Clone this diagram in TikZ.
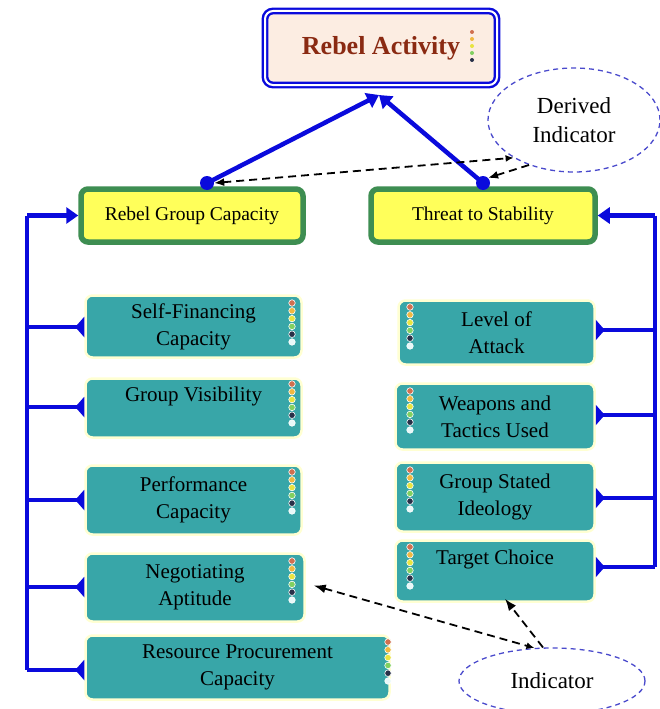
\documentclass[tikz,border=0pt]{standalone}
\usepackage{fontspec}
\setmainfont{Liberation Serif}
\usetikzlibrary{arrows.meta,shapes.geometric}
\definecolor{bl}{HTML}{0A0ADC}
\definecolor{tealfill}{HTML}{38A6A8}
\definecolor{glow}{HTML}{FFFFD2}
\definecolor{ylw}{HTML}{FFFF5A}
\definecolor{grn}{HTML}{3E8E52}
\definecolor{peach}{HTML}{FCEDE2}
\definecolor{brn}{HTML}{8A2A12}
\definecolor{ell}{HTML}{4A4ACC}
\definecolor{la}{HTML}{D07050}
\definecolor{lb}{HTML}{F0B840}
\definecolor{lc}{HTML}{E8E440}
\definecolor{ld}{HTML}{80D060}
\definecolor{le}{HTML}{283048}
\definecolor{lf}{HTML}{E8F8F8}
\tikzset{
  tealbox/.style={rectangle, rounded corners=7pt, fill=tealfill, draw=glow, line width=2.5pt,
    align=center, inner sep=0pt, font=\fontsize{21}{27}\selectfont},
  ybox/.style={rectangle, rounded corners=7pt, fill=ylw, draw=grn, line width=5.5pt,
    align=center, inner sep=0pt, minimum height=53pt, font=\fontsize{19.5}{22}\selectfont},
  bline/.style={draw=bl, line width=4.5pt},
  tee/.style={bline, -{Triangle[reversed,width=20pt,length=9pt]}},
  barrow/.style={bline, -{Triangle[width=16pt,length=12pt]}},
  dasharrow/.style={draw=black, line width=1.8pt, dash pattern=on 8pt off 5pt},
  dellipse/.style={ellipse, draw=ell, line width=1.3pt, dash pattern=on 5pt off 4pt, align=center,
    inner sep=0pt, font=\fontsize{23}{29}\selectfont},
  bdot/.style={circle, fill=bl, inner sep=0pt, minimum size=14pt},
  lamp/.style={circle, inner sep=0pt, minimum size=6.5pt, draw=white, line width=0.6pt}
}
\newcommand{\lamps}[2]{%
  \foreach \c [count=\i from 0] in {la,lb,lc,ld,le,lf}
    \node[lamp, fill=\c] at (#1,#2+\i*7.8) {};}
\begin{document}
\begin{tikzpicture}[x=1pt,y=-1pt]
\useasboundingbox (0,0) rectangle (660,709);
% top box
\node[rectangle, rounded corners=8pt, fill=peach, draw=bl, double=white, double distance=2pt,
  line width=2.4pt, minimum width=232pt, minimum height=74pt, font=\fontsize{26}{30}\bfseries\selectfont,
  text=brn] (ra) at (381,48) {Rebel Activity\hspace{8pt}};
\foreach \c [count=\i from 0] in {la,lb,lc,ld,le}
  \node[circle, inner sep=0pt, minimum size=4pt, fill=\c] at (472,32+\i*7) {};
% yellow boxes
\node[ybox, minimum width=222pt] (rgc) at (192,215.5) {Rebel Group Capacity};
\node[ybox, minimum width=224pt] (ts) at (483,215.5) {Threat to Stability};
% blue dots
\node[bdot] (d1) at (207,183) {};
\node[bdot] (d2) at (483,183) {};
\coordinate (rab) at (379,95);
\draw[barrow] (d1.center) -- (rab);
\draw[barrow] (d2.center) -- (rab);
% derived indicator
\node[dellipse, minimum width=172pt, minimum height=104pt] (di) at (574,120) {Derived\\Indicator};
\draw[dasharrow, {Latex[length=10pt,width=8pt]}-{Latex[length=8pt,width=7pt]}] (d1.east) -- (di.212);
\draw[dasharrow, -{Latex[length=10pt,width=8pt]}] (di.225) -- (d2.north east);
% left teal boxes
\node[tealbox, minimum width=216pt, minimum height=62pt] (sf) at (193.5,326.5) {Self-Financing\\Capacity};
\node[tealbox, minimum width=216pt, minimum height=59pt] (gv) at (193.5,408) {Group Visibility\\\mbox{}};
\node[tealbox, minimum width=216pt, minimum height=69pt] (pc) at (193.5,500) {Performance\\Capacity};
\node[tealbox, minimum width=219pt, minimum height=68pt] (na) at (195,587.5) {Negotiating\\Aptitude};
\node[tealbox, minimum width=304pt, minimum height=64pt] (rp) at (237.5,667.5) {Resource Procurement\\Capacity};
\lamps{292}{303}
\lamps{292}{384}
\lamps{292}{472}
\lamps{292}{561}
\lamps{388}{642}
% right teal boxes
\node[tealbox, minimum width=196pt, minimum height=64pt] (lv) at (496.5,332.5) {Level of\\Attack};
\node[tealbox, minimum width=199pt, minimum height=66pt] (wt) at (495,416.5) {Weapons and\\Tactics Used};
\node[tealbox, minimum width=199pt, minimum height=69pt] (gs) at (495,497) {Group Stated\\Ideology};
\node[tealbox, minimum width=199pt, minimum height=61pt] (tc) at (495,571) {Target Choice\\\mbox{}};
\lamps{410}{307}
\lamps{410}{391}
\lamps{410}{470}
\lamps{410}{547}
% left bus
\coordinate (lt) at (27,215.5);
\coordinate (lb) at (27,670);
\draw[bline] (lt) -- (lb);
\draw[barrow] (lt) -- (rgc.west);
\foreach \n/\yy in {sf/327,gv/407,pc/500,na/587,rp/670}{
  \coordinate (l\n) at (27,\yy);
  \draw[tee] (l\n) -- (\n.west |- l\n);
}
% right bus
\coordinate (rt) at (655,215.5);
\coordinate (rb) at (655,567);
\draw[bline] (rt) -- (rb);
\draw[barrow] (rt) -- (ts.east);
\foreach \n/\yy in {lv/330,wt/415,gs/498,tc/567}{
  \coordinate (r\n) at (655,\yy);
  \draw[tee] (r\n) -- (\n.east |- r\n);
}
% indicator
\node[dellipse, minimum width=186pt, minimum height=66pt] (ind) at (552,681) {Indicator};
\draw[dasharrow, {Latex[length=12pt,width=9pt]}-{Latex[length=8pt,width=7pt]}] ([xshift=8pt,yshift=2pt]na.east) -- (ind.118);
\draw[dasharrow, -{Latex[length=12pt,width=9pt]}] (ind.105) -- ([xshift=10pt,yshift=4pt]tc.south);
\end{tikzpicture}
\end{document}
